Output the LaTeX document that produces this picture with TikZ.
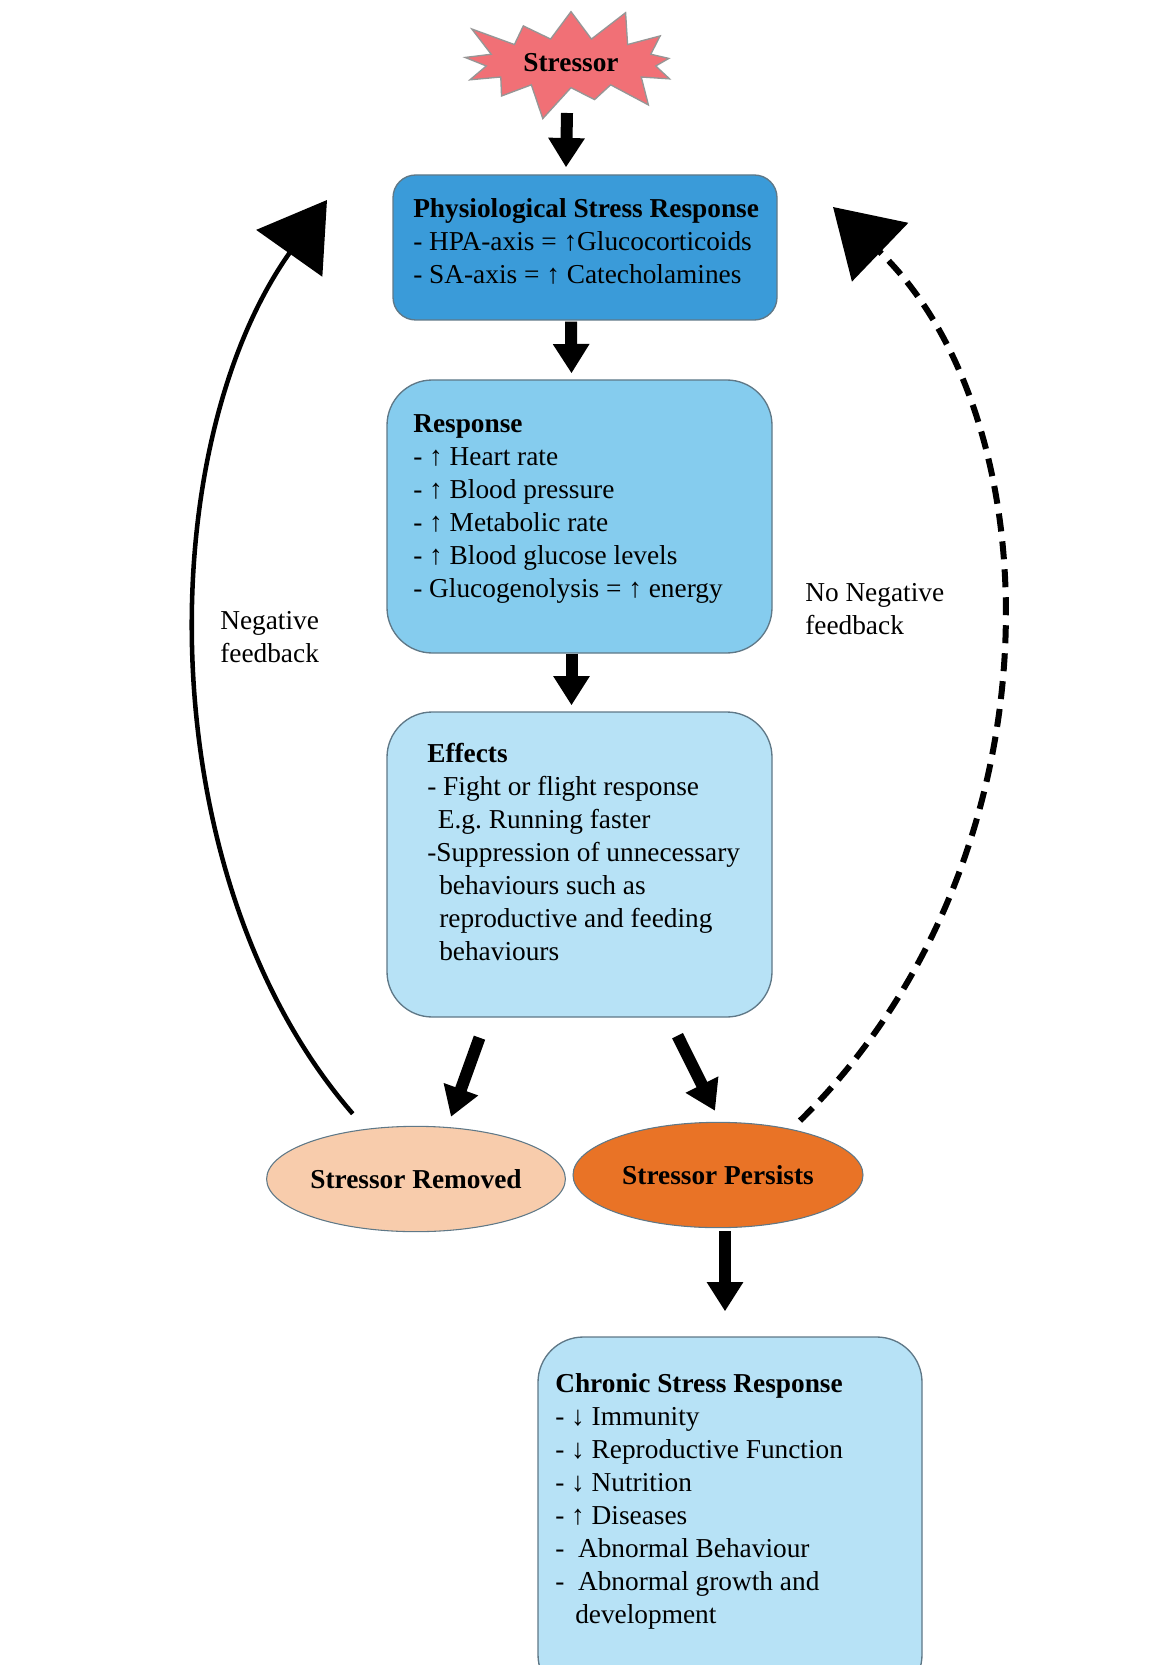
\documentclass[tikz,border=0pt]{standalone}
\usepackage{fontspec}
\setmainfont{Liberation Serif}
\usetikzlibrary{arrows.meta,shapes.geometric,shapes.symbols,calc}
\frenchspacing

\definecolor{physblue}{RGB}{58,155,217}
\definecolor{respblue}{RGB}{133,204,238}
\definecolor{paleblue}{RGB}{183,226,246}
\definecolor{boxline}{RGB}{95,120,135}
\definecolor{remfill}{RGB}{248,204,172}
\definecolor{perfill}{RGB}{233,115,38}
\definecolor{burstfill}{RGB}{241,112,118}
\definecolor{burstline}{RGB}{150,150,150}

\newcommand{\boxfont}{\fontsize{20.5}{24.75}\selectfont}

\tikzset{
  stressbox/.style={draw=boxline, line width=1pt, rounded corners=34pt, minimum width=288.75pt, inner sep=0pt},
  boxtext/.style={anchor=north west, align=left, inner sep=0pt, font=\boxfont},
  ovalnode/.style={ellipse, draw=boxline, line width=0.8pt, minimum width=217.5pt, minimum height=79pt, inner sep=0pt, font=\boxfont\bfseries},
  burst/.style={starburst, draw=burstline, line width=1pt, fill=burstfill, starburst points=13, starburst point height=28pt, minimum width=184pt, minimum height=93pt, inner sep=0pt, font=\boxfont\bfseries},
  blockarrow/.style={line width=9pt, -{Triangle[width=26pt,length=22pt]}},
  fbarrow/.style={line width=3.4pt, -{Triangle[width=60pt,length=49pt]}},
  nofbarrow/.style={fbarrow, line width=4.5pt, dash pattern=on 13.5pt off 7.5pt},
}

\begin{document}
\begin{tikzpicture}[x=0.75pt,y=0.75pt,yscale=-1,xscale=1]
\useasboundingbox (0,0) rectangle (1167,1665);
\clip (0,0) rectangle (1167,1665);

% Stressor
\node[burst] (stressor) at (571,63) {Stressor};

% Boxes
\node[stressbox, fill=physblue, rounded corners=17pt, minimum width=288pt, minimum height=108.75pt] (phys) at (585,247.5) {};
\node[stressbox, fill=respblue, minimum height=204.75pt] (resp) at (579.5,516.5) {};
\node[stressbox, fill=paleblue, minimum height=228.75pt] (eff) at (579.5,864.5) {};
\node[stressbox, fill=paleblue, minimum width=288pt, minimum height=272.25pt] (chronic) at (730,1518.5) {};

% Text Node
\node[boxtext] (phystext) at (413,198) {\textbf{Physiological Stress Response}\\- HPA-axis = ↑Glucocorticoids\\- SA-axis = ↑ Catecholamines};
% Text Node
\node[boxtext] (resptext) at (413,414) {\textbf{Response}\\- ↑ Heart rate\\- ↑ Blood pressure\\- ↑ Metabolic rate\\- ↑ Blood glucose levels\\- Glucogenolysis = ↑ energy};
% Text Node
\node[boxtext] (efftext) at (427,743) {\textbf{Effects}\\- Fight or flight response\\\hspace*{8pt}E.g. Running faster\\-Suppression of unnecessary\\\hspace*{9pt}behaviours such as\\\hspace*{9pt}reproductive and feeding\\\hspace*{9pt}behaviours};
% Text Node
\node[boxtext] (chronictext) at (555,1373) {\textbf{Chronic Stress Response}\\- ↓ Immunity\\- ↓ Reproductive Function\\- ↓ Nutrition\\- ↑ Diseases\\-\ \ Abnormal Behaviour\\-\ \ Abnormal growth and\\\hspace*{15pt}development};

% Outcomes
\node[ovalnode, fill=remfill] (rem) at (416,1179) {Stressor Removed};
\node[ovalnode, fill=perfill] (per) at (718,1175) {Stressor Persists};

% Feedback labels
\node[boxtext] (neglabel) at (220,611) {Negative\\feedback};
\node[boxtext] (noneglabel) at (805,583) {No Negative\\feedback};

% Arrows
\draw[blockarrow] ($(stressor.center)+(-4,50)$) -- ($(phys.north)+(-19,-7)$);
\draw[blockarrow] ($(phys.south)+(-14,1)$) -- ($(resp.north)+(-8,-6)$);
\draw[blockarrow] ($(resp.south)+(-8,0)$) -- ($(eff.north)+(-8,-6)$);
\draw[blockarrow] ($(eff.south)+(-100,20)$) -- ($(rem.north)+(35,-9)$);
\draw[blockarrow] ($(eff.south)+(98,18)$) -- ($(per.north)+(-3,-11)$);
\draw[blockarrow] ($(per.south)+(7,3)$) -- ($(chronic.north)+(-5,-25)$);

% Feedback loops
\coordinate (negtip) at (327,200);
\coordinate (nonegtip) at (833,207);
\draw[fbarrow, shorten <=15pt] (rem.135) .. controls (150,880) and (150,450) .. (negtip);
\draw[nofbarrow, shorten <=9pt] (per.32) .. controls (1065,860) and (1055,420) .. (nonegtip);

\end{tikzpicture}
\end{document}
